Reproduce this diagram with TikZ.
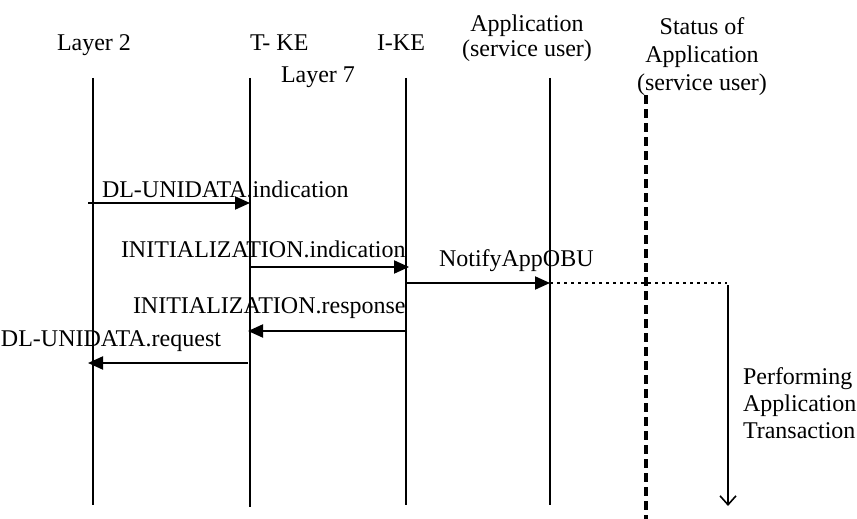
\documentclass[tikz,border=0pt]{standalone}
\usepackage{fontspec}
\setmainfont{Liberation Serif}
\usetikzlibrary{arrows.meta}
\begin{document}
\begin{tikzpicture}[x=1pt,y=-1pt,
  lbl/.style={inner sep=0pt,outer sep=0pt,anchor=base west,font=\fontsize{24}{27}\selectfont},
  lbr/.style={lbl,anchor=base east},
  hdr/.style={inner sep=0pt,outer sep=0pt,anchor=base,font=\fontsize{24}{27}\selectfont},
  life/.style={line width=2pt},
  msg/.style={line width=2pt,-{Triangle[length=15pt,width=13pt]}},
  stat/.style={line width=3.2pt,dash pattern=on 9pt off 5pt},
  dots/.style={line width=2pt,dash pattern=on 3pt off 4pt},
  perf/.style={line width=1.6pt,-{Straight Barb[length=9pt,width=16pt,line width=1.6pt]}}]
\useasboundingbox (0,0) rectangle (857,519);
% headers
\node[lbl] (h1) at (57,51) {Layer 2};
\node[lbl] (h2) at (250,51) {T- KE};
\node[lbl] (h3) at (377,51) {I-KE};
\node[lbl] (h4) at (281,83) {Layer 7};
\node[hdr] (h5a) at (527,32) {Application};
\node[hdr] (h5b) at (527,57) {(service user)};
\node[hdr] (h6a) at (702,35) {Status of};
\node[hdr] (h6b) at (702,63) {Application};
\node[hdr] (h6c) at (702,91) {(service user)};
% lifelines
\coordinate (l2t) at (92.5,78); \coordinate (l2b) at (92.5,505);
\coordinate (tkt) at (250,78);  \coordinate (tkb) at (250,507);
\coordinate (ikt) at (406,78);  \coordinate (ikb) at (406,505);
\coordinate (apt) at (550,78);  \coordinate (apb) at (550,505);
\coordinate (stt) at (646,95);  \coordinate (stb) at (646,522);
\draw[life] (l2t) -- (l2b);
\draw[life] (tkt) -- (tkb);
\draw[life] (ikt) -- (ikb);
\draw[life] (apt) -- (apb);
\draw[stat] (stt) -- (stb);
% messages
\coordinate (m1s) at (88,203);  \coordinate (m1e) at (250,203);
\coordinate (m2s) at (250,267); \coordinate (m2e) at (409,267);
\coordinate (m3s) at (407,283); \coordinate (m3e) at (550,283);
\coordinate (m4s) at (407,331); \coordinate (m4e) at (248,331);
\coordinate (m5s) at (248,363); \coordinate (m5e) at (88,363);
\coordinate (d1) at (727,283);
\coordinate (p1) at (728,285);  \coordinate (p2) at (728,506);
\draw[msg] (m1s) -- (m1e);
\draw[msg] (m2s) -- (m2e);
\draw[msg] (m3s) -- (m3e);
\draw[msg] (m4s) -- (m4e);
\draw[msg] (m5s) -- (m5e);
\draw[dots] (m3e) -- (d1);
\draw[perf] (p1) -- (p2);
% labels
\node[lbl] (t1) at (102,197) {DL-UNIDATA.indication};
\node[lbl] (t2) at (121,257) {INITIALIZATION.indication};
\node[lbl] (t3) at (439,266) {NotifyAppOBU};
\node[lbl] (t4) at (133,313) {INITIALIZATION.response};
\node[lbr] (t5) at (221,346) {DL-UNIDATA.request};
\node[lbl] (t6) at (743,384) {Performing};
\node[lbl] (t7) at (743,411) {Application};
\node[lbl] (t8) at (743,438) {Transaction};
\end{tikzpicture}
\end{document}
